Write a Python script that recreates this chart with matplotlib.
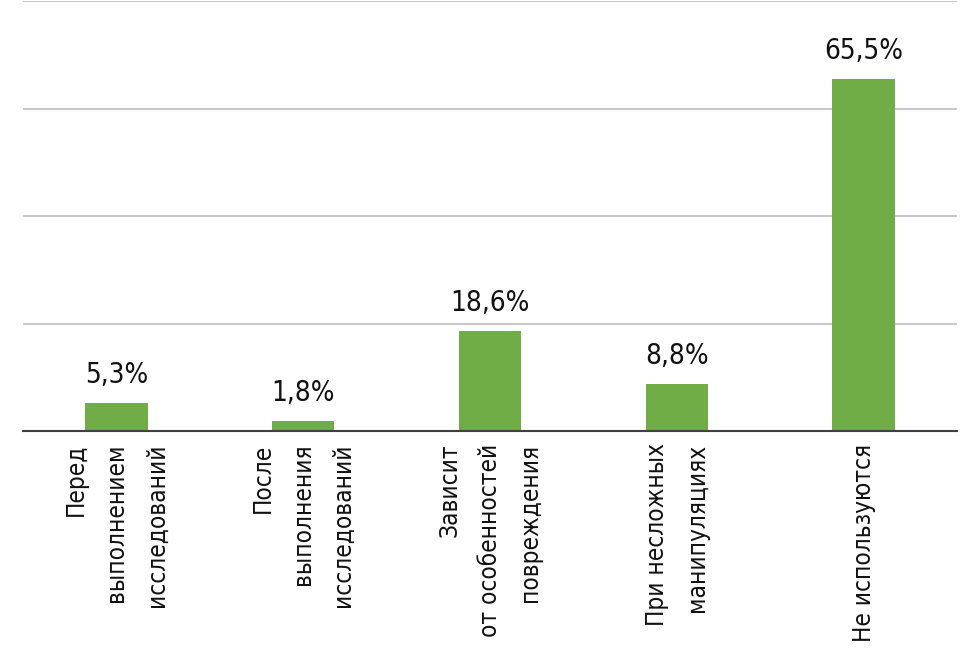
import matplotlib
matplotlib.use("Agg")
import matplotlib.pyplot as plt

categories = [
    "Перед\nвыполнением\nисследований",
    "После\nвыполнения\nисследований",
    "Зависит\nот особенностей\nповреждения",
    "При несложных\nманипуляциях",
    "Не используются",
]
values = [5.3, 1.8, 18.6, 8.8, 65.5]
value_labels = ["5,3%", "1,8%", "18,6%", "8,8%", "65,5%"]

plt.rcParams['font.family'] = ['DejaVu Sans']
plt.rcParams['font.stretch'] = 'condensed'

fig = plt.figure(figsize=(9.8, 6.49), dpi=100)
ax = fig.add_axes([23 / 980, (649 - 431) / 649, 934 / 980, 430 / 649])

x = range(len(categories))
ax.bar(x, values, width=0.333, color='#70ad47', zorder=3)

for xi, v, lab in zip(x, values, value_labels):
    ax.annotate(lab, (xi, v), xytext=(0, 10), textcoords='offset points',
                ha='center', va='bottom', fontsize=20, color='#111111',
                fontstretch='condensed')

ax.set_xlim(-0.5, 4.5)
ax.set_ylim(0, 80)
ax.set_yticks([0, 20, 40, 60, 80])
ax.set_yticklabels([])
ax.tick_params(axis='y', length=0)
ax.tick_params(axis='x', length=0, pad=9)
ax.grid(axis='y', color='#c8c8c8', linewidth=1.5, zorder=0)
ax.set_xticks(list(x))
ax.set_xticklabels(categories, rotation=90, fontsize=17.5, multialignment='right',
                   linespacing=1.85, fontstretch='condensed', color='#111111')
for s in ['left', 'right', 'top']:
    ax.spines[s].set_visible(False)
ax.spines['bottom'].set_color('#404040')
ax.spines['bottom'].set_linewidth(1.5)
ax.spines['bottom'].set_zorder(4)

fig.savefig('out.png', dpi=100)
